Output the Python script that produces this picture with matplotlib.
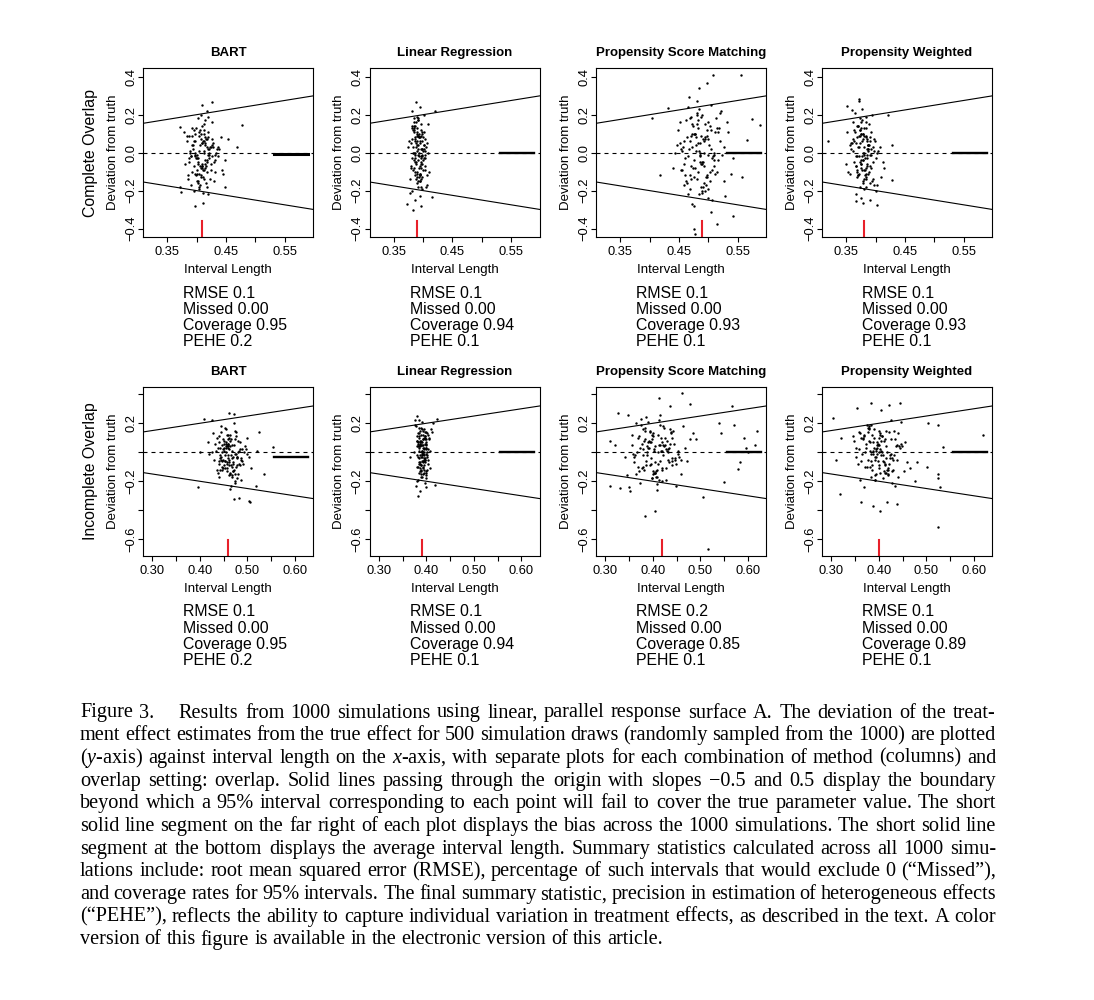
import matplotlib
matplotlib.use('Agg')
import matplotlib.pyplot as plt

plt.rcParams['font.family'] = 'Liberation Sans'
plt.rcParams['mathtext.fontset'] = 'custom'
plt.rcParams['mathtext.it'] = 'Liberation Serif:italic'
plt.rcParams['mathtext.rm'] = 'Liberation Serif'

# ---- data ----
methods = ['BART', 'Linear Regression', 'Propensity Score Matching', 'Propensity Weighted']
settings = ['Complete Overlap', 'Incomplete Overlap']
slopes = [-0.5, 0.5]

avg_len = [[0.41, 0.39, 0.49, 0.38], [0.46, 0.39, 0.42, 0.40]]
bias = [[-0.008, 0.0, 0.0, 0.0], [-0.03, 0.0, 0.0, 0.0]]
rmse = [['0.1', '0.1', '0.1', '0.1'], ['0.1', '0.1', '0.2', '0.1']]
missed = [['0.00', '0.00', '0.00', '0.00'], ['0.00', '0.00', '0.00', '0.00']]
coverage = [['0.95', '0.94', '0.93', '0.93'], ['0.95', '0.94', '0.85', '0.89']]
pehe = [['0.2', '0.1', '0.1', '0.1'], ['0.2', '0.1', '0.1', '0.1']]

x_ticks = [[0.35, 0.40, 0.45, 0.50, 0.55], [0.30, 0.35, 0.40, 0.45, 0.50, 0.55, 0.60]]
x_ticklabels = [['0.35', '', '0.45', '', '0.55'], ['0.30', '', '0.40', '', '0.50', '', '0.60']]
y_ticks = [[-0.4, -0.2, 0.0, 0.2, 0.4], [-0.6, -0.4, -0.2, 0.0, 0.2, 0.4]]
y_ticklabels = [['\u22120.4', '\u22120.2', '0.0', '0.2', '0.4'], ['\u22120.6', '', '\u22120.2', '', '0.2', '']]

# complete overlap
co_bart_x = [0.402, 0.415, 0.398, 0.421, 0.409, 0.387, 0.430, 0.412, 0.395, 0.418,
             0.405, 0.426, 0.391, 0.413, 0.400, 0.437, 0.408, 0.383, 0.419, 0.411,
             0.397, 0.424, 0.406, 0.416, 0.389, 0.432, 0.403, 0.414, 0.399, 0.441,
             0.410, 0.393, 0.422, 0.407, 0.385, 0.428, 0.404, 0.417, 0.396, 0.445,
             0.412, 0.401, 0.420, 0.390, 0.434, 0.409, 0.381, 0.425, 0.414, 0.398,
             0.411, 0.436, 0.394, 0.419, 0.405, 0.427, 0.388, 0.413, 0.400, 0.449,
             0.416, 0.392, 0.423, 0.408, 0.379, 0.431, 0.406, 0.418, 0.397, 0.439,
             0.403, 0.415, 0.386, 0.421, 0.410, 0.395, 0.433, 0.409, 0.384, 0.426,
             0.412, 0.399, 0.443, 0.407, 0.391, 0.420, 0.404, 0.417, 0.402, 0.429,
             0.404, 0.418, 0.396, 0.411, 0.425, 0.401, 0.414, 0.392, 0.408, 0.420,
             0.399, 0.413, 0.406, 0.427, 0.394, 0.410, 0.417, 0.402, 0.389, 0.423,
             0.407, 0.415, 0.397, 0.412, 0.431, 0.403, 0.419, 0.393, 0.409, 0.414,
             0.400, 0.422, 0.405, 0.388, 0.416, 0.411, 0.398, 0.428, 0.406, 0.413,
             0.477, 0.426, 0.468, 0.454, 0.372, 0.374, 0.397, 0.411, 0.448, 0.372, 0.409, 0.417]
co_bart_y = [-0.03, 0.05, -0.11, 0.02, -0.07, 0.09, -0.15, 0.00, 0.12, -0.05,
             -0.18, 0.07, -0.02, 0.15, -0.09, 0.03, -0.13, 0.06, -0.01, -0.21,
             0.10, -0.06, 0.04, -0.16, 0.01, -0.10, 0.18, -0.04, -0.12, 0.08,
             -0.08, 0.13, -0.01, 0.20, -0.14, 0.05, -0.19, 0.03, -0.07, -0.11,
             0.06, -0.03, 0.11, -0.17, 0.02, 0.14, -0.06, -0.09, 0.08, 0.00,
             -0.13, -0.02, 0.04, -0.22, 0.09, 0.16, -0.05, 0.01, -0.15, -0.04,
             0.07, -0.10, 0.03, -0.08, 0.11, -0.01, 0.12, -0.18, 0.06, 0.02,
             -0.06, 0.17, -0.12, -0.03, 0.05, -0.20, 0.00, -0.07, 0.09, 0.04,
             -0.14, 0.13, -0.09, 0.10, -0.02, 0.19, -0.11, 0.07, -0.16, -0.05,
             0.01, -0.04, 0.06, -0.09, 0.03, -0.01, -0.06, 0.04, -0.12, 0.08,
             -0.03, 0.10, -0.07, -0.02, 0.02, 0.05, -0.10, -0.05, 0.00, -0.14,
             0.07, -0.08, -0.01, 0.12, -0.04, -0.15, 0.02, 0.09, -0.06, 0.04,
             -0.11, 0.00, 0.11, -0.03, -0.07, 0.06, -0.02, 0.03, -0.17, -0.09,
             0.147, 0.265, 0.030, 0.072, 0.135, -0.207, -0.280, -0.263, -0.180, -0.180, 0.249, 0.218]

co_lr_x = [0.391, 0.397, 0.384, 0.402, 0.388, 0.395, 0.379, 0.405, 0.393, 0.386,
           0.399, 0.382, 0.394, 0.408, 0.390, 0.387, 0.401, 0.377, 0.396, 0.392,
           0.385, 0.403, 0.389, 0.398, 0.381, 0.394, 0.406, 0.388, 0.400, 0.383,
           0.396, 0.391, 0.378, 0.404, 0.387, 0.393, 0.399, 0.384, 0.409, 0.390,
           0.395, 0.386, 0.402, 0.380, 0.397, 0.389, 0.392, 0.407, 0.385, 0.398,
           0.376, 0.394, 0.401, 0.388, 0.391, 0.383, 0.405, 0.396, 0.387, 0.393,
           0.400, 0.382, 0.397, 0.390, 0.410, 0.386, 0.395, 0.379, 0.403, 0.392,
           0.389, 0.399, 0.384, 0.394, 0.406, 0.388, 0.396, 0.381, 0.401, 0.391,
           0.385, 0.398, 0.393, 0.375, 0.404, 0.390, 0.387, 0.400, 0.395, 0.383,
           0.392, 0.388, 0.396, 0.385, 0.399, 0.390, 0.394, 0.382, 0.397, 0.389,
           0.401, 0.386, 0.393, 0.398, 0.384, 0.391, 0.395, 0.387, 0.403, 0.390,
           0.394, 0.383, 0.397, 0.389, 0.392, 0.400, 0.386, 0.395, 0.381, 0.393,
           0.398, 0.388, 0.391, 0.404, 0.385, 0.396, 0.390, 0.387, 0.399, 0.393,
           0.420, 0.415, 0.383, 0.372, 0.388, 0.396]
co_lr_y = [0.02, -0.08, 0.11, -0.03, 0.16, -0.12, 0.05, -0.18, 0.08, -0.01,
           -0.06, 0.13, -0.15, 0.00, 0.19, -0.10, 0.04, -0.21, 0.09, -0.04,
           0.14, -0.07, 0.01, -0.13, 0.22, 0.06, -0.17, 0.03, -0.09, 0.12,
           -0.02, 0.17, -0.14, 0.07, -0.05, 0.10, -0.19, 0.00, 0.15, -0.11,
           0.05, -0.03, 0.20, -0.08, 0.02, -0.16, 0.09, -0.12, 0.13, -0.01,
           0.06, -0.23, 0.11, -0.06, 0.18, -0.09, 0.03, -0.14, 0.08, 0.00,
           -0.04, 0.14, -0.18, 0.04, -0.10, 0.07, 0.24, -0.07, 0.01, -0.15,
           0.10, -0.02, 0.16, -0.12, 0.05, -0.05, 0.12, -0.20, 0.02, 0.09,
           -0.08, 0.06, -0.13, 0.03, -0.03, 0.11, -0.25, 0.08, -0.11, 0.00,
           -0.01, 0.05, -0.06, 0.12, 0.02, -0.10, 0.08, -0.03, 0.15, -0.13,
           0.04, 0.00, -0.08, 0.10, -0.04, 0.17, -0.15, 0.06, -0.01, 0.13,
           -0.11, 0.03, -0.05, 0.09, -0.18, 0.01, 0.14, -0.07, 0.07, -0.02,
           0.11, -0.14, 0.04, -0.09, 0.18, -0.03, 0.06, -0.12, 0.02, 0.08,
           0.220, -0.233, -0.300, -0.270, 0.265, -0.280]

co_psm_x = [0.482, 0.497, 0.468, 0.510, 0.475, 0.489, 0.456, 0.503, 0.478, 0.521,
            0.463, 0.494, 0.486, 0.449, 0.507, 0.472, 0.515, 0.481, 0.459, 0.498,
            0.488, 0.531, 0.466, 0.492, 0.476, 0.505, 0.444, 0.484, 0.512, 0.470,
            0.495, 0.461, 0.479, 0.526, 0.487, 0.453, 0.501, 0.473, 0.518, 0.491,
            0.467, 0.484, 0.538, 0.477, 0.499, 0.458, 0.509, 0.483, 0.471, 0.493,
            0.440, 0.504, 0.480, 0.516, 0.464, 0.496, 0.485, 0.528, 0.474, 0.502,
            0.457, 0.490, 0.519, 0.469, 0.487, 0.508, 0.451, 0.495, 0.479, 0.534,
            0.462, 0.500, 0.476, 0.513, 0.489, 0.447, 0.506, 0.482, 0.524, 0.465,
            0.497, 0.472, 0.510, 0.454, 0.491, 0.481, 0.542, 0.468, 0.499, 0.486,
            0.486, 0.471, 0.502, 0.479, 0.493, 0.462, 0.511, 0.484, 0.497, 0.468,
            0.520, 0.476, 0.489, 0.455, 0.505, 0.481, 0.494, 0.465, 0.514, 0.488,
            0.473, 0.500, 0.459, 0.491, 0.483, 0.527, 0.470, 0.496, 0.478, 0.507,
            0.452, 0.490, 0.517, 0.474, 0.499, 0.485, 0.461, 0.509, 0.480, 0.492,
            0.508, 0.556, 0.405, 0.587, 0.575, 0.557, 0.417, 0.475, 0.478, 0.515,
            0.542, 0.505, 0.484, 0.497, 0.432, 0.467, 0.565]
co_psm_y = [0.05, -0.12, 0.18, -0.04, 0.10, -0.21, 0.01, 0.14, -0.08, 0.22,
            -0.16, 0.07, -0.01, 0.12, -0.25, 0.03, -0.10, 0.20, -0.06, 0.09,
            -0.18, 0.16, -0.02, 0.06, -0.13, 0.25, 0.00, -0.22, 0.11, -0.07,
            0.15, -0.03, 0.08, -0.15, 0.19, -0.09, 0.04, -0.27, 0.13, -0.05,
            0.02, 0.23, -0.11, 0.10, -0.19, 0.06, -0.01, 0.17, -0.14, 0.00,
            -0.08, 0.12, 0.27, -0.04, 0.08, -0.17, 0.05, -0.23, 0.14, -0.10,
            0.03, -0.06, 0.21, -0.12, 0.09, -0.02, 0.16, -0.20, 0.01, 0.11,
            -0.15, 0.07, -0.28, 0.18, -0.05, 0.04, -0.09, 0.13, -0.01, 0.24,
            -0.13, 0.10, -0.07, 0.02, -0.18, 0.15, -0.03, 0.06, -0.24, 0.00,
            -0.02, 0.09, -0.15, 0.04, -0.07, 0.17, -0.11, 0.01, 0.12, -0.19,
            0.06, -0.04, 0.20, -0.09, 0.02, -0.14, 0.08, -0.22, 0.13, -0.06,
            0.15, -0.01, -0.17, 0.07, -0.10, 0.03, 0.19, -0.13, 0.10, -0.03,
            0.05, -0.20, 0.11, -0.08, 0.16, -0.05, -0.12, 0.00, 0.21, -0.16,
            0.407, 0.410, 0.182, 0.144, 0.179, -0.128, -0.116, -0.400, -0.430, -0.374,
            -0.335, -0.312, 0.340, 0.367, 0.235, 0.293, 0.065]

co_pw_x = [0.378, 0.386, 0.369, 0.392, 0.374, 0.383, 0.360, 0.397, 0.380, 0.366,
           0.389, 0.372, 0.403, 0.376, 0.384, 0.356, 0.394, 0.379, 0.368, 0.387,
           0.375, 0.400, 0.363, 0.382, 0.391, 0.371, 0.408, 0.377, 0.385, 0.352,
           0.396, 0.373, 0.381, 0.365, 0.389, 0.379, 0.412, 0.370, 0.384, 0.358,
           0.393, 0.376, 0.367, 0.388, 0.382, 0.399, 0.361, 0.375, 0.390, 0.372,
           0.405, 0.380, 0.364, 0.386, 0.377, 0.349, 0.395, 0.383, 0.369, 0.387,
           0.374, 0.401, 0.359, 0.381, 0.392, 0.366, 0.378, 0.410, 0.371, 0.385,
           0.354, 0.397, 0.376, 0.388, 0.363, 0.383, 0.415, 0.373, 0.379, 0.390,
           0.368, 0.394, 0.357, 0.380, 0.386, 0.375, 0.402, 0.362, 0.384, 0.377,
           0.380, 0.374, 0.387, 0.369, 0.383, 0.377, 0.391, 0.365, 0.381, 0.372,
           0.385, 0.376, 0.393, 0.368, 0.379, 0.388, 0.371, 0.384, 0.375, 0.398,
           0.378, 0.366, 0.386, 0.373, 0.382, 0.362, 0.390, 0.376, 0.383, 0.370,
           0.395, 0.379, 0.374, 0.387, 0.367, 0.381, 0.389, 0.372, 0.384, 0.377,
           0.320, 0.428, 0.428, 0.403, 0.422, 0.352, 0.372, 0.366, 0.378, 0.390, 0.360, 0.372]
co_pw_y = [-0.04, 0.07, -0.13, 0.02, 0.12, -0.08, 0.05, -0.17, 0.09, -0.02,
           0.15, -0.11, 0.00, -0.06, 0.19, 0.04, -0.15, 0.10, -0.09, 0.01,
           0.13, -0.20, 0.06, -0.03, 0.08, -0.12, 0.03, 0.17, -0.07, 0.11,
           -0.14, 0.05, -0.01, 0.21, -0.10, 0.07, -0.05, 0.14, -0.18, 0.02,
           -0.08, 0.10, -0.22, 0.04, -0.12, 0.06, 0.16, -0.04, -0.16, 0.09,
           0.01, -0.09, 0.12, -0.01, 0.23, -0.06, 0.03, -0.14, 0.08, -0.11,
           0.18, -0.03, 0.05, -0.19, 0.11, -0.07, 0.00, -0.13, 0.14, 0.02,
           -0.10, 0.07, -0.24, 0.04, -0.05, 0.13, -0.08, 0.09, -0.15, 0.06,
           -0.02, 0.20, -0.11, 0.03, -0.06, 0.10, -0.17, 0.01, 0.16, -0.09,
           0.00, -0.05, 0.04, -0.10, 0.08, -0.02, -0.07, 0.11, -0.14, 0.03,
           0.06, -0.08, -0.01, 0.14, -0.04, 0.02, -0.12, 0.09, -0.06, 0.01,
           -0.16, 0.05, -0.03, 0.12, -0.09, 0.07, -0.01, 0.16, -0.11, 0.03,
           -0.05, 0.10, -0.18, 0.02, -0.07, 0.13, 0.04, -0.02, -0.13, 0.06,
           0.060, 0.042, -0.146, -0.274, 0.196, 0.245, 0.285, -0.255, -0.265, -0.250, 0.225, 0.270]

# incomplete overlap
in_bart_x = [0.458, 0.471, 0.446, 0.483, 0.452, 0.465, 0.437, 0.477, 0.460, 0.490,
             0.443, 0.468, 0.455, 0.499, 0.449, 0.474, 0.430, 0.462, 0.486, 0.451,
             0.466, 0.440, 0.479, 0.457, 0.494, 0.445, 0.470, 0.426, 0.463, 0.481,
             0.453, 0.473, 0.436, 0.488, 0.459, 0.447, 0.476, 0.504, 0.450, 0.467,
             0.433, 0.461, 0.484, 0.444, 0.472, 0.456, 0.496, 0.441, 0.464, 0.478,
             0.420, 0.458, 0.469, 0.448, 0.487, 0.454, 0.475, 0.438, 0.466, 0.492,
             0.451, 0.462, 0.428, 0.480, 0.457, 0.443, 0.473, 0.500, 0.446, 0.468,
             0.435, 0.460, 0.485, 0.452, 0.470, 0.416, 0.464, 0.489, 0.449, 0.476,
             0.439, 0.459, 0.482, 0.455, 0.507, 0.444, 0.467, 0.431, 0.463, 0.474,
             0.460, 0.448, 0.469, 0.455, 0.476, 0.442, 0.463, 0.452, 0.481, 0.458,
             0.445, 0.467, 0.454, 0.473, 0.439, 0.461, 0.450, 0.478, 0.457, 0.465,
             0.447, 0.470, 0.456, 0.484, 0.443, 0.462, 0.453, 0.474, 0.459, 0.440,
             0.468, 0.451, 0.477, 0.457, 0.464, 0.446, 0.471, 0.455, 0.486, 0.462,
             0.553, 0.534, 0.524, 0.395, 0.503, 0.506, 0.517, 0.409, 0.426, 0.461,
             0.472, 0.482, 0.471, 0.400, 0.520]
in_bart_y = [-0.02, 0.05, -0.10, 0.01, -0.06, 0.09, -0.14, -0.03, 0.12, -0.08,
             0.03, -0.17, 0.07, -0.01, -0.11, 0.15, -0.05, 0.02, -0.19, 0.06,
             -0.09, 0.11, -0.04, -0.13, 0.04, 0.18, -0.07, 0.00, -0.15, 0.08,
             -0.02, -0.21, 0.10, -0.06, 0.03, -0.12, 0.14, -0.03, -0.09, 0.05,
             0.01, -0.16, 0.07, -0.05, 0.20, -0.11, 0.02, -0.08, 0.12, -0.18,
             -0.01, 0.06, -0.13, 0.09, -0.04, 0.16, -0.10, 0.03, -0.23, 0.00,
             0.08, -0.07, 0.13, -0.15, 0.04, -0.02, -0.20, 0.10, -0.06, 0.01,
             -0.12, 0.05, -0.09, 0.17, -0.03, 0.07, -0.14, 0.02, -0.05, 0.11,
             -0.17, 0.04, -0.08, 0.00, -0.11, 0.14, -0.04, 0.06, -0.25, 0.09,
             -0.04, 0.02, -0.08, 0.06, -0.01, -0.12, 0.04, -0.06, 0.00, 0.09,
             -0.03, -0.10, 0.03, -0.15, 0.07, -0.05, 0.01, -0.09, 0.12, -0.02,
             0.05, -0.13, -0.07, 0.02, -0.04, 0.10, -0.11, -0.01, 0.06, -0.06,
             -0.16, 0.03, -0.03, -0.08, 0.08, 0.00, -0.12, 0.04, -0.05, -0.09,
             0.034, -0.152, 0.143, -0.241, -0.333, -0.340, -0.232, 0.228, 0.223, 0.269,
             0.262, -0.317, -0.322, 0.000, 0.010]

in_lr_x = [0.390, 0.396, 0.384, 0.401, 0.387, 0.393, 0.380, 0.399, 0.391, 0.385,
           0.403, 0.389, 0.395, 0.377, 0.398, 0.386, 0.392, 0.406, 0.383, 0.394,
           0.388, 0.400, 0.381, 0.397, 0.390, 0.404, 0.385, 0.393, 0.379, 0.399,
           0.387, 0.395, 0.409, 0.384, 0.391, 0.397, 0.382, 0.402, 0.389, 0.394,
           0.376, 0.398, 0.386, 0.392, 0.405, 0.388, 0.383, 0.396, 0.390, 0.401,
           0.385, 0.393, 0.378, 0.399, 0.387, 0.395, 0.407, 0.382, 0.391, 0.397,
           0.389, 0.403, 0.384, 0.394, 0.380, 0.398, 0.392, 0.386, 0.411, 0.390,
           0.395, 0.383, 0.400, 0.388, 0.393, 0.374, 0.397, 0.389, 0.402, 0.385,
           0.391, 0.396, 0.381, 0.399, 0.387, 0.394, 0.408, 0.384, 0.392, 0.390,
           0.391, 0.387, 0.395, 0.384, 0.398, 0.389, 0.393, 0.381, 0.396, 0.388,
           0.400, 0.385, 0.392, 0.397, 0.383, 0.390, 0.394, 0.386, 0.402, 0.389,
           0.393, 0.382, 0.396, 0.388, 0.391, 0.399, 0.385, 0.394, 0.380, 0.392,
           0.397, 0.387, 0.390, 0.403, 0.384, 0.395, 0.389, 0.386, 0.398, 0.392,
           0.422, 0.417, 0.383, 0.380, 0.386, 0.400, 0.366, 0.413, 0.376]
in_lr_y = [0.01, -0.07, 0.10, -0.02, 0.15, -0.11, 0.04, -0.16, 0.07, -0.04,
           0.12, -0.09, 0.00, 0.18, -0.13, 0.05, -0.06, 0.09, -0.19, 0.02,
           -0.03, 0.14, -0.10, 0.06, 0.21, -0.05, 0.03, -0.15, 0.11, -0.01,
           0.08, -0.12, 0.16, -0.07, 0.01, -0.21, 0.13, -0.03, 0.05, -0.09,
           0.19, -0.14, 0.04, -0.01, 0.10, -0.17, 0.07, -0.05, 0.00, 0.13,
           -0.08, 0.03, -0.23, 0.09, -0.02, 0.16, -0.11, 0.06, -0.06, 0.11,
           -0.13, 0.02, 0.22, -0.04, 0.08, -0.18, 0.05, -0.08, 0.14, -0.01,
           0.03, -0.10, 0.07, -0.15, 0.12, 0.00, -0.05, 0.17, -0.12, 0.04,
           -0.02, 0.09, -0.20, 0.06, -0.07, 0.10, 0.01, -0.14, 0.15, -0.03,
           0.00, 0.06, -0.05, 0.11, 0.03, -0.09, 0.09, -0.02, 0.14, -0.12,
           0.05, 0.01, -0.07, 0.11, -0.03, 0.16, -0.14, 0.07, 0.00, 0.12,
           -0.10, 0.04, -0.04, 0.08, -0.17, 0.02, 0.13, -0.06, 0.08, -0.01,
           0.10, -0.13, 0.05, -0.08, 0.17, -0.02, 0.07, -0.11, 0.03, 0.09,
           0.230, -0.225, -0.300, 0.250, -0.265, -0.240, -0.030, 0.200, 0.220]

in_psm_x = [0.405, 0.428, 0.384, 0.446, 0.397, 0.418, 0.366, 0.437, 0.411, 0.389,
            0.459, 0.376, 0.422, 0.401, 0.349, 0.433, 0.393, 0.414, 0.471, 0.381,
            0.407, 0.442, 0.358, 0.425, 0.399, 0.386, 0.452, 0.372, 0.416, 0.434,
            0.394, 0.341, 0.419, 0.403, 0.463, 0.379, 0.427, 0.409, 0.355, 0.440,
            0.390, 0.413, 0.382, 0.478, 0.398, 0.421, 0.362, 0.436, 0.404, 0.387,
            0.449, 0.370, 0.415, 0.431, 0.395, 0.346, 0.424, 0.408, 0.485, 0.377,
            0.402, 0.439, 0.364, 0.418, 0.392, 0.455, 0.383, 0.412, 0.430, 0.368,
            0.400, 0.444, 0.352, 0.423, 0.396, 0.467, 0.385, 0.410, 0.432, 0.374,
            0.406, 0.491, 0.359, 0.420, 0.397, 0.438, 0.380, 0.414, 0.448, 0.389,
            0.402, 0.386, 0.425, 0.371, 0.413, 0.394, 0.441, 0.380, 0.408, 0.430,
            0.359, 0.398, 0.419, 0.388, 0.452, 0.375, 0.405, 0.435, 0.365, 0.411,
            0.391, 0.427, 0.383, 0.446, 0.400, 0.369, 0.416, 0.393, 0.458, 0.378,
            0.409, 0.432, 0.355, 0.396, 0.421, 0.387, 0.439, 0.404, 0.373, 0.415,
            0.461, 0.412, 0.435, 0.479, 0.566, 0.571, 0.620, 0.592, 0.596, 0.583,
            0.579, 0.550, 0.505, 0.383, 0.404, 0.515, 0.327, 0.310, 0.319, 0.310,
            0.330, 0.347, 0.540, 0.544, 0.600, 0.615]
in_psm_y = [0.04, -0.11, 0.17, -0.05, 0.09, -0.20, 0.00, 0.13, -0.08, 0.21,
            -0.15, 0.06, -0.02, 0.11, -0.24, 0.03, -0.09, 0.19, -0.06, 0.08,
            -0.17, 0.15, -0.01, 0.05, -0.13, 0.24, 0.01, -0.21, 0.10, -0.07,
            0.14, -0.03, 0.07, -0.14, 0.18, -0.10, 0.02, -0.26, 0.12, -0.04,
            0.03, 0.22, -0.12, 0.09, -0.18, 0.05, -0.02, 0.16, -0.14, 0.00,
            -0.08, 0.11, 0.26, -0.05, 0.07, -0.16, 0.04, -0.22, 0.13, -0.11,
            0.02, -0.06, 0.20, -0.12, 0.08, -0.03, 0.15, -0.19, 0.01, 0.10,
            -0.15, 0.06, -0.27, 0.17, -0.04, 0.03, -0.09, 0.12, 0.00, 0.23,
            -0.13, 0.09, -0.07, 0.01, -0.18, 0.14, -0.02, 0.05, -0.23, 0.07,
            0.01, -0.06, 0.10, -0.13, 0.05, 0.15, -0.09, 0.02, -0.17, 0.08,
            -0.03, 0.12, -0.11, 0.04, -0.01, 0.19, -0.07, 0.06, -0.15, 0.00,
            0.03, -0.19, 0.09, -0.04, 0.13, -0.10, 0.01, 0.07, -0.05, 0.16,
            -0.12, 0.02, 0.05, -0.08, 0.18, -0.02, 0.10, -0.14, 0.03, -0.06,
            0.410, 0.372, 0.320, 0.333, 0.320, 0.189, 0.147, 0.097, 0.032, -0.069,
            -0.117, -0.207, -0.306, -0.439, -0.402, -0.669, 0.274, 0.078, 0.050, -0.232,
            -0.244, 0.257, 0.205, 0.136, 0.000, 0.050]

in_pw_x = [0.398, 0.417, 0.381, 0.432, 0.392, 0.409, 0.367, 0.424, 0.403, 0.386,
           0.444, 0.374, 0.413, 0.395, 0.352, 0.428, 0.389, 0.406, 0.458, 0.378,
           0.401, 0.436, 0.360, 0.419, 0.394, 0.383, 0.447, 0.370, 0.411, 0.426,
           0.391, 0.345, 0.415, 0.399, 0.452, 0.376, 0.421, 0.404, 0.357, 0.433,
           0.387, 0.408, 0.380, 0.466, 0.396, 0.418, 0.363, 0.430, 0.400, 0.385,
           0.441, 0.372, 0.412, 0.425, 0.393, 0.348, 0.420, 0.402, 0.475, 0.377,
           0.397, 0.434, 0.365, 0.414, 0.390, 0.449, 0.382, 0.407, 0.427, 0.369,
           0.395, 0.439, 0.355, 0.416, 0.392, 0.455, 0.384, 0.405, 0.429, 0.373,
           0.401, 0.481, 0.361, 0.414, 0.393, 0.437, 0.379, 0.410, 0.443, 0.388,
           0.396, 0.381, 0.412, 0.368, 0.403, 0.389, 0.425, 0.376, 0.399, 0.418,
           0.357, 0.392, 0.407, 0.384, 0.438, 0.371, 0.401, 0.421, 0.362, 0.405,
           0.386, 0.415, 0.379, 0.432, 0.394, 0.366, 0.410, 0.388, 0.446, 0.374,
           0.402, 0.423, 0.352, 0.391, 0.413, 0.383, 0.428, 0.398, 0.369, 0.408,
           0.524, 0.303, 0.317, 0.362, 0.388, 0.402, 0.416, 0.437, 0.383, 0.422,
           0.444, 0.504, 0.524, 0.535, 0.620, 0.524, 0.524, 0.528, 0.501, 0.353,
           0.404, 0.320, 0.310]
in_pw_y = [0.06, -0.12, 0.01, 0.15, -0.05, -0.18, 0.09, -0.02, 0.12, -0.09,
           0.03, 0.19, -0.14, 0.07, -0.03, -0.21, 0.10, 0.00, -0.07, 0.16,
           -0.11, 0.04, 0.13, -0.16, 0.02, -0.06, 0.21, -0.10, 0.08, -0.01,
           -0.19, 0.11, -0.04, 0.05, -0.13, 0.17, -0.08, 0.01, 0.14, -0.23,
           0.07, -0.02, 0.18, -0.11, 0.03, -0.15, 0.10, -0.05, 0.00, 0.12,
           -0.17, 0.06, -0.09, 0.22, -0.03, 0.08, -0.12, 0.02, -0.20, 0.14,
           -0.06, 0.09, -0.01, -0.14, 0.16, 0.04, -0.10, 0.11, -0.04, -0.24,
           0.05, 0.13, -0.08, 0.00, -0.16, 0.07, 0.19, -0.02, -0.12, 0.03,
           0.10, -0.07, -0.19, 0.15, 0.01, -0.05, 0.08, -0.13, 0.04, -0.01,
           -0.01, 0.07, -0.08, 0.12, -0.14, 0.03, 0.09, -0.05, 0.15, -0.11,
           0.02, -0.03, 0.11, -0.17, 0.05, 0.00, -0.09, 0.14, -0.06, 0.08,
           -0.12, 0.04, 0.17, -0.02, -0.15, 0.10, -0.07, 0.01, 0.06, -0.10,
           0.13, -0.04, 0.03, -0.19, 0.09, -0.01, -0.13, 0.05, 0.11, -0.06,
           -0.513, 0.234, -0.287, -0.340, -0.370, -0.402, -0.340, -0.359, 0.338, 0.326,
           0.338, 0.200, 0.189, 0.039, 0.120, -0.149, -0.179, -0.241, -0.099, 0.303,
           0.292, 0.100, -0.050]

panel_x = [[co_bart_x, co_lr_x, co_psm_x, co_pw_x], [in_bart_x, in_lr_x, in_psm_x, in_pw_x]]
panel_y = [[co_bart_y, co_lr_y, co_psm_y, co_pw_y], [in_bart_y, in_lr_y, in_psm_y, in_pw_y]]

caption = [
    "Figure 3. Results from 1000 simulations using linear, parallel response surface A. The deviation of the treat-",
    "ment effect estimates from the true effect for 500 simulation draws (randomly sampled from the 1000) are plotted",
    "($y$-axis) against interval length on the $x$-axis, with separate plots for each combination of method (columns) and",
    "overlap setting: overlap. Solid lines passing through the origin with slopes \u22120.5 and 0.5 display the boundary",
    "beyond which a 95% interval corresponding to each point will fail to cover the true parameter value. The short",
    "solid line segment on the far right of each plot displays the bias across the 1000 simulations. The short solid line",
    "segment at the bottom displays the average interval length. Summary statistics calculated across all 1000 simu-",
    "lations include: root mean squared error (RMSE), percentage of such intervals that would exclude 0 (\u201cMissed\u201d),",
    "and coverage rates for 95% intervals. The final summary statistic, precision in estimation of heterogeneous effects",
    "(\u201cPEHE\u201d), reflects the ability to capture individual variation in treatment effects, as described in the text. A color",
    "version of this figure is available in the electronic version of this article.",
]

# ---- layout (pixels) ----
W, H = 1094, 1000
fig = plt.figure(figsize=(W / 100, H / 100), dpi=100)

lefts = [143, 369.5, 596, 822]
tops = [68, 386.7]
aw, ah = 170, 169.3
xlims = [(0.309, 0.598), (0.280, 0.638)]
ylims = [(-0.446, 0.446), (-0.715, 0.452)]


def fx(x):
    return x / W


def fy(y):
    return 1 - y / H


for r in range(2):
    for c in range(4):
        l, t = lefts[c], tops[r]
        ax = fig.add_axes([fx(l), fy(t + ah), aw / W, ah / H])
        ax.scatter(panel_x[r][c], panel_y[r][c], s=3.0, c='black', lw=0, zorder=3)
        for s in slopes:
            ax.axline((0, 0), slope=s, color='black', lw=0.8)
        ax.axhline(0, color='black', lw=0.8, ls=(0, (3.6, 3.6)))
        ax.axhline(bias[r][c], xmin=0.77, xmax=0.97, color='black',
                   lw=2.2 if (r, c) == (0, 0) else 1.7, zorder=4)
        ax.axvline(avg_len[r][c], ymin=0, ymax=0.097, color='#e8202a', lw=1.5)
        ax.set_xlim(xlims[r])
        ax.set_ylim(ylims[r])
        ax.set_xticks(x_ticks[r])
        ax.set_xticklabels(x_ticklabels[r])
        ax.set_yticks(y_ticks[r])
        ax.set_yticklabels(y_ticklabels[r], rotation=90, va='center')
        ax.tick_params(direction='out', length=3.6, width=0.8, labelsize=9.3)
        ax.tick_params(axis='x', pad=3.0)
        ax.tick_params(axis='y', pad=0.5)
        for sp in ax.spines.values():
            sp.set_linewidth(0.8)

        cx = l + aw / 2
        fig.text(fx(cx), fy(t - 12), methods[c], ha='center', va='baseline',
                 fontsize=9.5, fontweight='bold')
        fig.text(fx(cx), fy(t + ah + 36), 'Interval Length', ha='center', va='baseline',
                 fontsize=9.5)
        fig.text(fx(l - 30), fy(t + ah / 2), 'Deviation from truth', rotation=90,
                 ha='center', va='center', fontsize=9.5)
        stats = ['RMSE ' + rmse[r][c], 'Missed ' + missed[r][c],
                 'Coverage ' + coverage[r][c], 'PEHE ' + pehe[r][c]]
        for k, txt in enumerate(stats):
            fig.text(fx(l + 40), fy(t + ah + 60.5 + 16.1 * k), txt, ha='left',
                     va='baseline', fontsize=11.4)

    fig.text(fx(91), fy(tops[r] + ah / 2), settings[r], rotation=90, ha='center',
             va='center', fontsize=11.4)

# ---- caption, justified word by word ----
cap_x0, cap_x1 = 80, 996
cap_y0, cap_dy = 717.5, 22.7
cap_fs = 14.6
renderer = fig.canvas.get_renderer()
for i, line in enumerate(caption):
    words = line.split(' ')
    arts = [fig.text(0, 0, w, fontsize=cap_fs, family='Liberation Serif',
                     ha='left', va='baseline') for w in words]
    widths = [a.get_window_extent(renderer=renderer).width for a in arts]
    extra = 18 if i == 0 else 0
    if i < len(caption) - 1:
        gap = (cap_x1 - cap_x0 - sum(widths) - extra) / (len(words) - 1)
    else:
        gap = 5.0
    x = cap_x0
    y = cap_y0 + i * cap_dy
    for j, (a, w) in enumerate(zip(arts, widths)):
        a.set_position((fx(x), fy(y)))
        x += w + gap
        if i == 0 and j == 1:
            x += extra

fig.savefig('out.png', dpi=100)
